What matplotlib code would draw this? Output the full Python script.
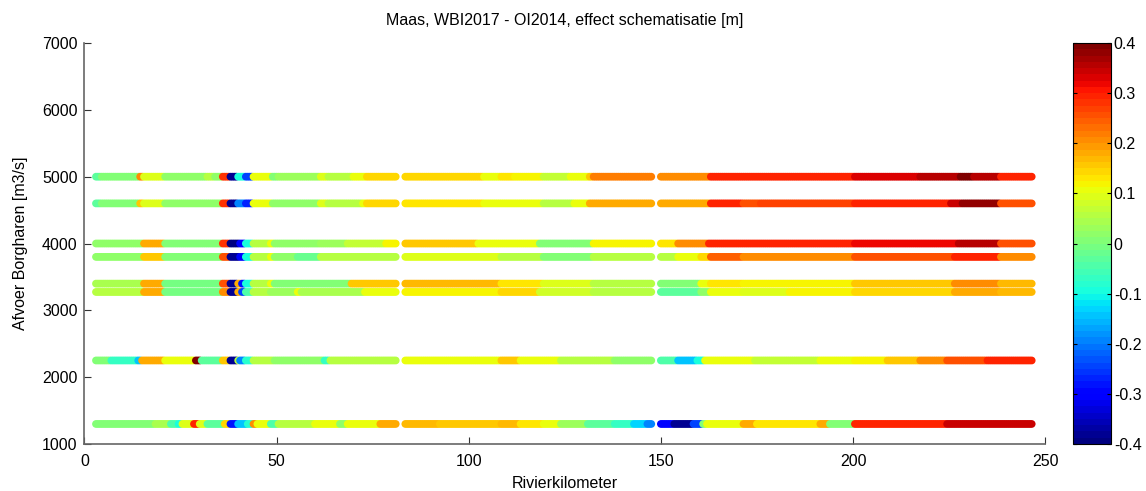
import numpy as np
import matplotlib
matplotlib.use("Agg")
import matplotlib.pyplot as plt

plt.rcParams["font.family"] = ["Liberation Sans", "DejaVu Sans"]

# discharge levels at Borgharen [m3/s]
Q_LEVELS = [5000, 4600, 4000, 3800, 3400, 3275, 2250, 1300]

# computed river-km reaches (start, end) and spacing
REACHES = [(3.0, 81.0), (83.5, 147.5), (150.0, 246.5)]
DKM = 0.5

# effect per discharge: (up-to-km, value [m]) stepwise along the river
EFF_5000 = [(4, -0.03), (14.0, 0.01), (15.2, 0.2), (20.5, 0.09), (31.5, 0.02), (33.5, 0.06),
            (35.5, 0.02), (37.5, 0.28), (39.7, -0.38), (41.5, -0.1), (43.6, -0.25),
            (48.5, 0.1), (50, 0.0), (61, 0.03), (63, 0.09), (69.5, 0.05), (73, 0.1),
            (82, 0.14), (103.7, 0.14), (108, 0.11), (111.5, 0.13), (119, 0.12), (126, 0.07),
            (131, 0.1), (132.3, 0.15), (148, 0.22), (162.7, 0.21), (171, 0.3), (200, 0.29),
            (217, 0.33), (227.6, 0.36), (231.1, 0.4), (238.1, 0.35), (247, 0.3)]
EFF_4600 = [(4, -0.03), (14.0, 0.01), (15.2, 0.15), (20.5, 0.09), (35.5, 0.02), (37.5, 0.28),
            (39.7, -0.38), (41.5, -0.2), (43.6, -0.27), (48.5, 0.1), (61, 0.02), (63, 0.09),
            (72, 0.06), (73.4, 0.1), (82, 0.14), (103.7, 0.13), (108, 0.11), (119, 0.1),
            (127, 0.06), (131, 0.1), (148, 0.18), (162.7, 0.18), (171, 0.29), (175.6, 0.25),
            (200, 0.27), (225, 0.3), (228, 0.34), (238, 0.38), (247, 0.25)]
EFF_4000 = [(15.2, 0.02), (20.5, 0.18), (35.5, 0.01), (37.5, 0.28), (40.4, -0.4),
            (41.7, -0.3), (43.6, -0.1), (48, 0.05), (49, 0.1), (61, 0.02), (68, 0.03),
            (78, 0.07), (82, 0.12), (102, 0.15), (118, 0.1), (132, 0.01), (148, 0.12),
            (154, 0.13), (162, 0.2), (200, 0.3), (227, 0.32), (238, 0.36), (247, 0.26)]
EFF_3800 = [(15.2, 0.02), (20.5, 0.16), (35.5, 0.0), (37.5, 0.25), (40.4, -0.38),
            (41.7, -0.3), (43.6, -0.1), (48, 0.05), (49, 0.1), (55, 0.02), (61, -0.02),
            (82, 0.05), (108, 0.09), (119, 0.06), (132, 0.01), (154, 0.06), (160, 0.1),
            (162.7, 0.14), (171, 0.24), (200, 0.21), (226, 0.25), (238, 0.3), (247, 0.2)]
EFF_3400 = [(15.2, 0.04), (20.5, 0.18), (35.5, -0.01), (37.5, 0.25), (39.7, -0.38),
            (40.6, 0.18), (41.7, -0.28), (43.6, -0.1), (48, 0.05), (49, 0.1), (69, 0.01),
            (82, 0.15), (108, 0.17), (119, 0.13), (132, 0.09), (148, 0.06), (160, 0.01),
            (162.7, 0.1), (171, 0.13), (200, 0.12), (226, 0.15), (238, 0.2), (247, 0.17)]
EFF_3275 = [(15.2, 0.05), (20.5, 0.18), (35.5, -0.01), (37.5, 0.2), (39.7, -0.38),
            (40.6, 0.18), (41.7, -0.25), (43.6, -0.05), (48, 0.05), (55, 0.03), (56, 0.1),
            (72.5, 0.04), (82, 0.1), (108, 0.12), (118.4, 0.14), (132, 0.08), (148, 0.05),
            (160, -0.03), (162.7, 0.02), (171, 0.11), (183, 0.09), (200, 0.12), (226, 0.14),
            (238, 0.18), (247, 0.17)]
EFF_2250 = [(6.6, 0.01), (13.6, -0.07), (14.8, -0.15), (20.5, 0.18), (28.5, 0.1), (30, 0.4),
            (35.5, -0.03), (37.5, 0.15), (39.7, -0.38), (40.4, 0.05), (41.7, -0.2),
            (43.6, -0.08), (49, 0.05), (62, 0.02), (63.5, -0.07), (82, 0.05), (108, 0.11),
            (113, 0.15), (123.6, 0.1), (137.5, 0.05), (148, 0.02), (154, -0.05),
            (159, -0.15), (161, -0.1), (174, 0.1), (191, 0.07), (200, 0.1), (208.6, 0.12),
            (217, 0.15), (224, 0.2), (234.6, 0.25), (247, 0.3)]
EFF_1300 = [(18, 0.01), (22, 0.04), (24, -0.05), (25, -0.1), (28.3, 0.09), (29.5, 0.3),
            (31.5, 0.09), (36, -0.03), (37.5, 0.14), (39.7, -0.28), (42, -0.15),
            (43.5, -0.08), (44.5, 0.2), (48, 0.1), (50, -0.05), (59.5, 0.06), (66.4, 0.11),
            (68.2, 0.02), (76.8, 0.1), (82, 0.18), (92.4, 0.17), (108, 0.15), (113, 0.17),
            (119, 0.13), (123.6, 0.1), (130.6, 0.03), (137.5, -0.03), (142.7, -0.07),
            (146.2, -0.13), (148, -0.2), (153, -0.3), (158.4, -0.38), (160.5, -0.25),
            (161.5, 0.0), (171.3, 0.11), (174.8, 0.18), (191.2, 0.13), (193.8, 0.18),
            (200, 0.0), (224, 0.3), (247, 0.34)]

EFFECTS = [EFF_5000, EFF_4600, EFF_4000, EFF_3800, EFF_3400, EFF_3275, EFF_2250, EFF_1300]


def effect_at(km, steps):
    ends = np.array([e for e, _ in steps])
    vals = np.array([v for _, v in steps])
    idx = np.searchsorted(ends, km, side="left")
    return vals[np.clip(idx, 0, len(vals) - 1)]


km = np.concatenate([np.arange(a, b + 1e-9, DKM) for a, b in REACHES])

fig = plt.figure(figsize=(11.46, 4.91), dpi=100)
ax = fig.add_axes([0.0737, 0.0957, 0.8383, 0.8167])
cax = fig.add_axes([0.9365, 0.0957, 0.033, 0.8167])

FS = 11.5
cmap = plt.get_cmap("jet", 64)
for q, steps in zip(Q_LEVELS, EFFECTS):
    sc = ax.scatter(km, np.full(km.shape, q), c=effect_at(km, steps), cmap=cmap,
                    vmin=-0.4, vmax=0.4, s=31, linewidths=0, zorder=2)

ax.set_xlim(0, 250)
ax.set_ylim(1000, 7000)
ax.set_xticks([0, 50, 100, 150, 200, 250])
ax.set_yticks([1000, 2000, 3000, 4000, 5000, 6000, 7000])
for sp in ("top", "right"):
    ax.spines[sp].set_visible(False)
for sp in ("left", "bottom"):
    ax.spines[sp].set_color("#666666")
    ax.spines[sp].set_linewidth(1.2)
ax.tick_params(direction="in", length=5, width=0.8, color="#333333", labelsize=FS)
ax.tick_params(axis="x", pad=7)
ax.tick_params(axis="y", pad=5)
ax.set_xlabel("Rivierkilometer", fontsize=FS, labelpad=5)
ax.set_ylabel("Afvoer Borgharen [m3/s]", fontsize=FS, labelpad=10)
ax.set_title("Maas, WBI2017 - OI2014, effect schematisatie [m]", fontsize=FS, pad=13)

cb = fig.colorbar(sc, cax=cax, ticks=np.arange(-0.4, 0.41, 0.1))
cb.ax.set_yticklabels(["-0.4", "-0.3", "-0.2", "-0.1", "0", "0.1", "0.2", "0.3", "0.4"])
cb.ax.tick_params(direction="in", length=3, width=0.8, labelsize=FS, pad=2,
                  left=True, right=True)
cb.outline.set_linewidth(0.8)

fig.savefig("out.png", dpi=100)
